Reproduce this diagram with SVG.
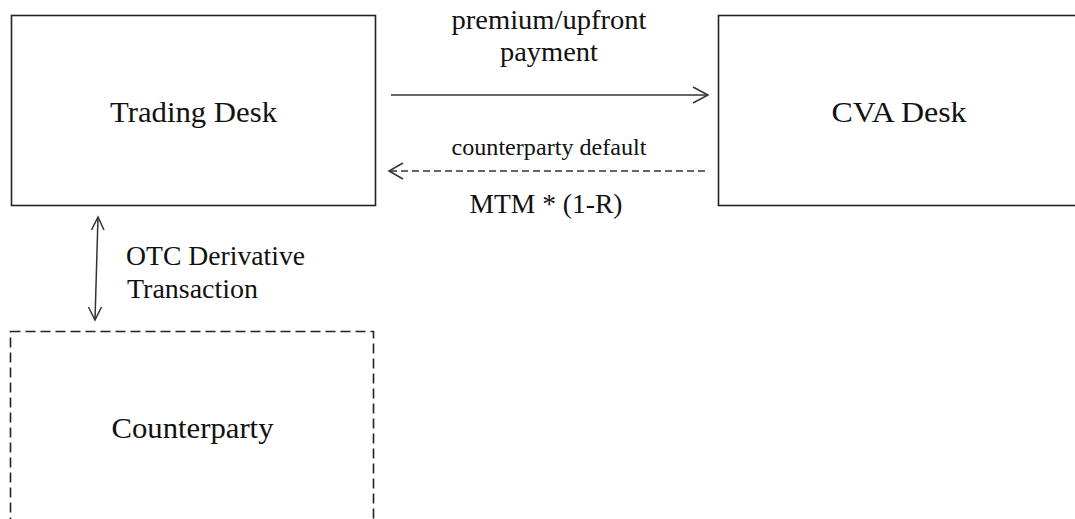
<svg xmlns="http://www.w3.org/2000/svg" width="1075" height="519" viewBox="0 0 1075 519">
<style>
.box{fill:#fff;stroke:#222;stroke-width:1.6}
.dbox{fill:#fff;stroke:#222;stroke-width:1.6;stroke-dasharray:10 5}
.lbl{font-family:"Liberation Serif","Times New Roman",serif;fill:#111}
.node{font-size:30px;text-anchor:middle}
.edge{font-size:27.5px}
.ln{fill:none;stroke:#333;stroke-width:1.5}
.dash{stroke-dasharray:7 4}
</style>
<rect width="1075" height="519" fill="#fff"/>
<g id="trading-desk">
<rect class="box" x="11.5" y="15.5" width="364" height="190"/>
<text class="lbl node" x="193.5" y="122" textLength="167" lengthAdjust="spacingAndGlyphs">Trading Desk</text>
</g>
<g id="cva-desk">
<rect class="box" x="718.5" y="15.5" width="370" height="190"/>
<text class="lbl node" x="899" y="122" textLength="135" lengthAdjust="spacingAndGlyphs">CVA Desk</text>
</g>
<g id="counterparty">
<rect class="dbox" x="10.5" y="331.5" width="363" height="200"/>
<text class="lbl node" x="192.5" y="438" textLength="162" lengthAdjust="spacingAndGlyphs">Counterparty</text>
</g>
<g id="connectors">
<line class="ln" x1="391" y1="95" x2="707" y2="95"/>
<polyline class="ln" points="693,87 708,95 693,103"/>
<line class="ln dash" x1="390" y1="171" x2="706" y2="171"/>
<polyline class="ln" points="403,163 389,171 403,179"/>
<line class="ln" x1="98" y1="217" x2="95" y2="320"/>
<polyline class="ln" points="91.5,230 98,217 104,230"/>
<polyline class="ln" points="88.5,307 95,320 101.5,307"/>
<text class="lbl edge" x="549" y="29" text-anchor="middle" textLength="195" lengthAdjust="spacingAndGlyphs">premium/upfront</text>
<text class="lbl edge" x="549" y="61" text-anchor="middle" textLength="98" lengthAdjust="spacingAndGlyphs">payment</text>
<text class="lbl" x="549" y="155" font-size="23.5" text-anchor="middle" textLength="195" lengthAdjust="spacingAndGlyphs">counterparty default</text>
<text class="lbl edge" x="546" y="213" text-anchor="middle" textLength="153" lengthAdjust="spacingAndGlyphs">MTM * (1-R)</text>
<text class="lbl edge" x="126" y="265" textLength="179" lengthAdjust="spacingAndGlyphs">OTC Derivative</text>
<text class="lbl edge" x="127" y="298" textLength="131" lengthAdjust="spacingAndGlyphs">Transaction</text>
</g>
</svg>
